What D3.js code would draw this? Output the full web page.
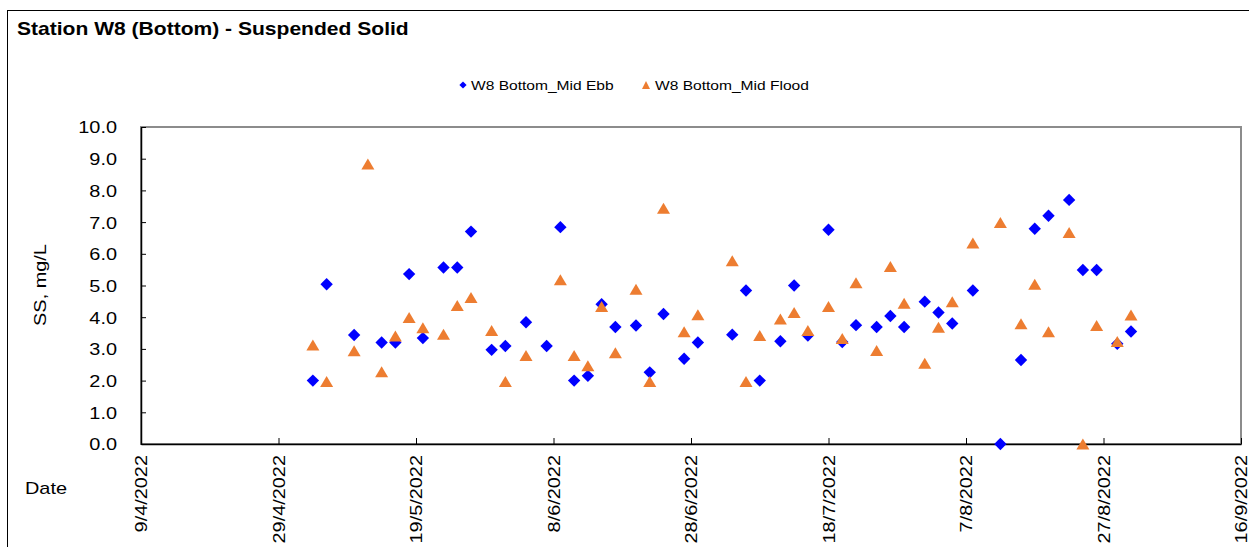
<!DOCTYPE html>
<html>
<head>
<meta charset="utf-8">
<script src="https://cdn.jsdelivr.net/npm/d3@7"></script>
<style>
  html, body { margin: 0; padding: 0; background: #fff; }
  svg { display: block; font-family: "Liberation Sans", Arial, sans-serif; }
</style>
</head>
<body>
<svg id="chart" width="1249" height="547"></svg>
<script>
// Suspended solids at station W8, bottom layer, mid-ebb and mid-flood samples
const chartTitle = "Station W8 (Bottom) - Suspended Solid";
const seriesNames = ["W8 Bottom_Mid Ebb", "W8 Bottom_Mid Flood"];

const ebbDates = [
  "4/5/2022","6/5/2022","10/5/2022","14/5/2022","16/5/2022","18/5/2022","20/5/2022","23/5/2022","25/5/2022","27/5/2022","30/5/2022",
  "1/6/2022","4/6/2022","7/6/2022","9/6/2022","11/6/2022","13/6/2022","15/6/2022","17/6/2022","20/6/2022","22/6/2022","24/6/2022","27/6/2022","29/6/2022",
  "4/7/2022","6/7/2022","8/7/2022","11/7/2022","13/7/2022","15/7/2022","18/7/2022","20/7/2022","22/7/2022","25/7/2022","27/7/2022","29/7/2022",
  "1/8/2022","3/8/2022","5/8/2022","8/8/2022","12/8/2022","15/8/2022","17/8/2022","19/8/2022","22/8/2022","24/8/2022","26/8/2022","29/8/2022","31/8/2022"
];
const ebbValues = [
  2.0, 5.04, 3.44, 3.2, 3.2, 5.36, 3.34, 5.57, 5.57, 6.7, 2.97,
  3.09, 3.84, 3.09, 6.84, 2.0, 2.15, 4.41, 3.69, 3.74, 2.26, 4.1, 2.69, 3.2,
  3.45, 4.84, 2.0, 3.24, 5.0, 3.42, 6.76, 3.22, 3.75, 3.69, 4.04, 3.69,
  4.49, 4.15, 3.8, 4.84, 0.0, 2.65, 6.79, 7.2, 7.7, 5.49, 5.49, 3.16, 3.55
];

const floodDates = [
  "4/5/2022","6/5/2022","10/5/2022","12/5/2022","14/5/2022","16/5/2022","18/5/2022","20/5/2022","23/5/2022","25/5/2022","27/5/2022","30/5/2022",
  "1/6/2022","4/6/2022","9/6/2022","11/6/2022","13/6/2022","15/6/2022","17/6/2022","20/6/2022","22/6/2022","24/6/2022","27/6/2022","29/6/2022",
  "4/7/2022","6/7/2022","8/7/2022","11/7/2022","13/7/2022","15/7/2022","18/7/2022","20/7/2022","22/7/2022","25/7/2022","27/7/2022","29/7/2022",
  "1/8/2022","3/8/2022","5/8/2022","8/8/2022","12/8/2022","15/8/2022","17/8/2022","19/8/2022","22/8/2022","24/8/2022","26/8/2022","29/8/2022","31/8/2022"
];
const floodValues = [
  3.12, 1.97, 2.94, 8.83, 2.28, 3.41, 3.99, 3.67, 3.46, 4.37, 4.62, 3.58,
  1.97, 2.79, 5.18, 2.79, 2.47, 4.34, 2.88, 4.88, 1.97, 7.44, 3.54, 4.08,
  5.78, 1.97, 3.42, 3.94, 4.15, 3.58, 4.34, 3.33, 5.09, 2.95, 5.6, 4.44,
  2.55, 3.68, 4.49, 6.34, 6.99, 3.79, 5.04, 3.54, 6.67, 0.0, 3.74, 3.23, 4.07
];

const xTickLabels = ["9/4/2022","29/4/2022","19/5/2022","8/6/2022","28/6/2022","18/7/2022","7/8/2022","27/8/2022","16/9/2022"];
const yTickValues = [0,1,2,3,4,5,6,7,8,9,10];

const parseDate = d3.timeParse("%d/%m/%Y");
const formatDate = d3.timeFormat("%-d/%-m/%Y");

const ebbColor = "#0000FF";
const floodColor = "#ED7D31";
const stretch = 1.17;          // wide glyph rendering of the chart's text

const svg = d3.select("#chart");
const plot = { left: 141, right: 1241, top: 127, bottom: 444 };

const xTicks = xTickLabels.map(parseDate);
const x = d3.scaleTime()
  .domain([xTicks[0], xTicks[xTicks.length - 1]])
  .range([plot.left, plot.right]);
const y = d3.scaleLinear().domain([0, 10]).range([plot.bottom, plot.top]);

// outer chart border
svg.append("rect")
  .attr("x", 7.5).attr("y", 10.5).attr("width", 1400).attr("height", 700)
  .attr("fill", "none").attr("stroke", "#000").attr("stroke-width", 1);

// title
svg.append("text")
  .attr("transform", `translate(17,35) scale(${stretch},1)`)
  .attr("font-size", 18).attr("font-weight", "bold").attr("fill", "#000")
  .text(chartTitle);

// plot frame
svg.append("rect")
  .attr("x", plot.left).attr("y", plot.top)
  .attr("width", plot.right - plot.left).attr("height", plot.bottom - plot.top)
  .attr("fill", "none").attr("stroke", "#8c8c8c").attr("stroke-width", 2);

// y axis
const yAxis = svg.append("g")
  .attr("transform", `translate(${plot.left},0)`)
  .call(d3.axisLeft(y).tickValues(yTickValues).tickSize(-5).tickSizeOuter(0).tickFormat(d3.format(".1f")));
yAxis.select(".domain").attr("stroke", "#000").attr("stroke-width", 1.5);
yAxis.selectAll(".tick line").attr("stroke", "#000");
yAxis.selectAll(".tick text")
  .attr("x", 0).attr("dy", "0.35em")
  .attr("transform", `translate(-24,0) scale(${stretch},1)`)
  .attr("font-size", 17).attr("font-family", null).attr("fill", "#000");

// x axis
const xAxis = svg.append("g")
  .attr("transform", `translate(0,${plot.bottom})`)
  .call(d3.axisBottom(x).tickValues(xTicks).tickSize(-6).tickSizeOuter(0).tickFormat(formatDate));
xAxis.select(".domain").attr("stroke", "#000").attr("stroke-width", 1.5);
xAxis.selectAll(".tick line").attr("stroke", "#000");
xAxis.selectAll(".tick text")
  .attr("x", 0).attr("y", 0).attr("dy", "0.35em")
  .attr("transform", `translate(0,11) rotate(-90) scale(${stretch},1)`)
  .style("text-anchor", "end")
  .attr("font-size", 17).attr("font-family", null).attr("fill", "#000");

// axis titles
svg.append("text")
  .attr("transform", `translate(40,285) rotate(-90) scale(${stretch},1)`)
  .attr("text-anchor", "middle").attr("dy", "0.35em")
  .attr("font-size", 17).text("SS, mg/L");
svg.append("text")
  .attr("transform", `translate(25,494) scale(${stretch},1)`)
  .attr("font-size", 17).text("Date");

// markers
const diamond = s => `M0,${-s}L${s},0L0,${s}L${-s},0Z`;
const triangle = (w, h) => `M0,${-h / 2}L${w / 2},${h / 2}L${-w / 2},${h / 2}Z`;

const ebbData = ebbDates.map((d, i) => ({ date: parseDate(d), value: ebbValues[i] }));
const floodData = floodDates.map((d, i) => ({ date: parseDate(d), value: floodValues[i] }));

svg.append("g").selectAll("path").data(ebbData).join("path")
  .attr("d", diamond(6.2))
  .attr("transform", d => `translate(${x(d.date)},${y(d.value)})`)
  .attr("fill", ebbColor);

svg.append("g").selectAll("path").data(floodData).join("path")
  .attr("d", triangle(13, 11))
  .attr("transform", d => `translate(${x(d.date)},${y(d.value)})`)
  .attr("fill", floodColor);

// legend
const legend = svg.append("g");
legend.append("path").attr("d", diamond(3.6)).attr("transform", "translate(463,85)").attr("fill", ebbColor);
legend.append("text").attr("transform", `translate(471,90) scale(${stretch},1)`)
  .attr("font-size", 13.3).text(seriesNames[0]);
legend.append("path").attr("d", triangle(8, 8)).attr("transform", "translate(646,85)").attr("fill", floodColor);
legend.append("text").attr("transform", `translate(655,90) scale(${stretch},1)`)
  .attr("font-size", 13.3).text(seriesNames[1]);
</script>
</body>
</html>
